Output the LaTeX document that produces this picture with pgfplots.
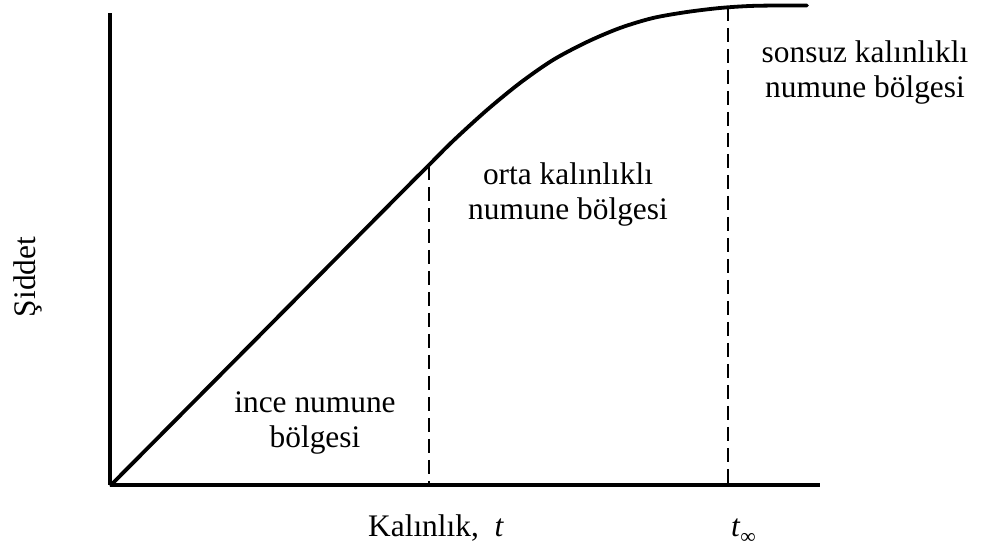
\documentclass[border=0pt]{standalone}
\usepackage{pgfplots}
\pgfplotsset{compat=1.18}
\usepackage{fontspec}
\setmainfont{Liberation Serif}
\begin{document}
\begin{tikzpicture}[x=1bp,y=1bp]
\path[use as bounding box] (0,0) rectangle (982,549);
\begin{axis}[
  at={(110bp,64bp)}, anchor=south west,
  scale only axis, width=710bp, height=472bp,
  xmin=110, xmax=820, ymin=64, ymax=536,
  axis lines=left, axis line style={line width=3.3bp,-},
  ticks=none, clip=false,
]
% intensity curve
\addplot[line width=3.8bp, smooth, tension=0.5, line cap=round, line join=round] coordinates {
(111,64) (270,224) (400,355) (428,383) (453,408) (487,439) (520,466) (553,489) (587,507) (620,521) (653,531) (687,537) (720,541) (750,543) (780,543.5) (807,543.5)};
% dashed boundaries
\addplot[line width=2.2bp, dash pattern=on 14bp off 7bp] coordinates {(429,383) (429,64)};
\addplot[line width=2.2bp, dash pattern=on 14bp off 7bp] coordinates {(728,542) (728,64)};
\def\fs{\fontsize{31.5}{35}\selectfont}
\node[font=\fs, anchor=base] at (axis cs:865,486) {sonsuz kalınlıklı};
\node[font=\fs, anchor=base] at (axis cs:865,451) {numune bölgesi};
\node[font=\fs, anchor=base] at (axis cs:568,364) {orta kalınlıklı};
\node[font=\fs, anchor=base] at (axis cs:568,329) {numune bölgesi};
\node[font=\fs, anchor=base] at (axis cs:315,136) {ince numune};
\node[font=\fs, anchor=base] at (axis cs:315,101) {bölgesi};
\node[font=\fs, anchor=base west, inner sep=0pt] at (axis cs:368,12) {Kalınlık,\ \ \textit{t}};
\node[font=\fs, anchor=base west, inner sep=0pt] at (axis cs:731,12) {\textit{t}\raisebox{-0.22em}{\fontsize{21}{21}\selectfont\textit{∞}}};
\node[font=\fs, anchor=base, rotate=90] at (axis cs:35,272) {Şiddet};
\end{axis}
\end{tikzpicture}
\end{document}
